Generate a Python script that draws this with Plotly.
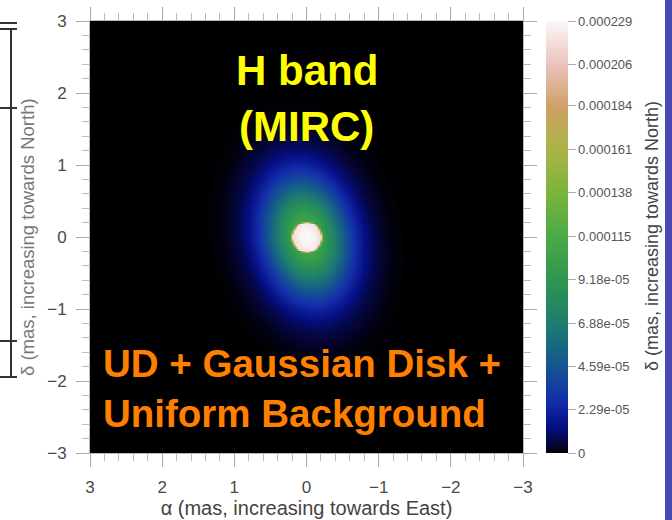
import numpy as np
import plotly.graph_objects as go

# ---- data: model parameters of the image (mas / flux units) ----
ud_diameter = 0.42          # uniform disk diameter (mas)
ud_level = 1.14e-4          # surface brightness of the UD
gauss_peak = 1.15e-4        # peak of the Gaussian disk
gauss_fwhm_major = 1.34     # mas
gauss_fwhm_minor = 0.92     # mas
gauss_pa_deg = 12.0         # position angle, east of north
background_level = 0.0      # uniform background as displayed
edge_blur = 0.02            # apparent softness of the UD edge (mas)

grid_alpha = np.linspace(-3, 3, 241)
grid_delta = np.linspace(-3, 3, 241)

cbar_vals = [0, 2.29e-05, 4.59e-05, 6.88e-05, 9.18e-05, 0.000115,
             0.000138, 0.000161, 0.000184, 0.000206, 0.000229]
cbar_text = ["0", "2.29e-05", "4.59e-05", "6.88e-05", "9.18e-05", "0.000115",
             "0.000138", "0.000161", "0.000184", "0.000206", "0.000229"]
axis_ticks = [-3, -2, -1, 0, 1, 2, 3]

# ---- model image ----
A, D = np.meshgrid(grid_alpha, grid_delta)
pa = np.deg2rad(gauss_pa_deg)
u = A * np.sin(pa) + D * np.cos(pa)      # along major axis
v = A * np.cos(pa) - D * np.sin(pa)      # along minor axis
s_maj = gauss_fwhm_major / 2.3548
s_min = gauss_fwhm_minor / 2.3548
gauss = gauss_peak * np.exp(-0.5 * ((u / s_maj) ** 2 + (v / s_min) ** 2))
r = np.hypot(A, D)
ud = ud_level * np.clip((ud_diameter / 2 - r) / edge_blur + 0.5, 0.0, 1.0)
Z = gauss + ud + background_level
Z[Z < 2e-7] = 0.0

colorscale = [
    [0.0, "rgb(0,0,0)"],
    [0.015, "rgb(4,4,45)"],
    [0.06, "rgb(5,14,130)"],
    [0.12, "rgb(20,45,170)"],
    [0.20, "rgb(20,85,145)"],
    [0.30, "rgb(30,125,110)"],
    [0.40, "rgb(45,150,80)"],
    [0.50, "rgb(75,170,70)"],
    [0.60, "rgb(120,180,60)"],
    [0.70, "rgb(170,180,70)"],
    [0.80, "rgb(205,160,100)"],
    [0.90, "rgb(235,195,190)"],
    [1.0, "rgb(250,248,248)"],
]

FONT = "Liberation Sans, Arial, sans-serif"

fig = go.Figure()
fig.add_trace(go.Heatmap(
    x=grid_alpha, y=grid_delta, z=Z,
    zmin=cbar_vals[0], zmax=cbar_vals[-1],
    colorscale=colorscale, zsmooth="best",
    colorbar=dict(
        x=1.053, xanchor="left", xpad=0,
        y=0.5, yanchor="middle", ypad=0,
        len=432, lenmode="pixels", thickness=22,
        outlinewidth=0,
        tickvals=cbar_vals, ticktext=cbar_text,
        ticks="outside", ticklen=8, tickcolor="#aaa",
        tickfont=dict(family=FONT, size=13, color="#555"),
    ),
))

axis_common = dict(
    tickvals=axis_ticks, ticks="outside", ticklen=13, tickcolor="#aaa",
    tickwidth=1, mirror="allticks", showline=True, linecolor="#bbb",
    showgrid=False, zeroline=False, automargin=False,
    minor=dict(dtick=0.2, ticks="outside", ticklen=7, tickcolor="#bbb"),
    tickfont=dict(family=FONT, size=17, color="#4a4a4a"),
    ticklabelstandoff=6,
)
fig.update_xaxes(range=[3, -3], **axis_common,
                 title=dict(text="α (mas, increasing towards East)",
                            font=dict(family=FONT, size=20, color="#444"),
                            standoff=4))
fig.update_yaxes(range=[-3, 3], **axis_common)

def px_x(px):
    return (px - 90) / 433.0

def px_y(py):
    return (453 - py) / 432.0

annos = [
    dict(text="H band", x=0, y=2.31, xref="x", yref="y", xanchor="center", yanchor="middle",
         font=dict(family=FONT, size=42, color="#ffff00", weight="bold")),
    dict(text="(MIRC)", x=0, y=1.54, xref="x", yref="y", xanchor="center", yanchor="middle",
         font=dict(family=FONT, size=42, color="#ffff00", weight="bold")),
    dict(text="UD + Gaussian Disk +", x=2.85, y=-1.75, xref="x", yref="y", xanchor="left", yanchor="middle",
         font=dict(family=FONT, size=38.5, color="#ff8000", weight="bold")),
    dict(text="Uniform Background", x=2.85, y=-2.45, xref="x", yref="y", xanchor="left", yanchor="middle",
         font=dict(family=FONT, size=38.5, color="#ff8000", weight="bold")),
    dict(text="δ (mas, increasing towards North)", x=px_x(27), y=px_y(237), xref="paper", yref="paper",
         xanchor="center", yanchor="middle", textangle=-90,
         font=dict(family=FONT, size=18.5, color="#777")),
    dict(text="δ (mas, increasing towards North)", x=px_x(652), y=px_y(236), xref="paper", yref="paper",
         xanchor="center", yanchor="middle", textangle=-90,
         font=dict(family=FONT, size=18, color="#444")),
]
for a in annos:
    a["showarrow"] = False
    fig.add_annotation(**a)

line_style = dict(color="#333", width=2)
shapes = [
    dict(type="line", x0=px_x(0), x1=px_x(17), y0=px_y(23), y1=px_y(23)),
    dict(type="line", x0=px_x(0), x1=px_x(17), y0=px_y(29), y1=px_y(29)),
    dict(type="line", x0=px_x(11), x1=px_x(11), y0=px_y(29), y1=px_y(377)),
    dict(type="line", x0=px_x(0), x1=px_x(17), y0=px_y(108), y1=px_y(108)),
    dict(type="line", x0=px_x(0), x1=px_x(17), y0=px_y(341), y1=px_y(341)),
    dict(type="line", x0=px_x(0), x1=px_x(17), y0=px_y(377), y1=px_y(377)),
]
for s in shapes:
    fig.add_shape(**s, xref="paper", yref="paper", line=line_style)
fig.add_shape(type="rect", xref="paper", yref="paper",
              x0=px_x(665), x1=px_x(680), y0=px_y(530), y1=px_y(-10),
              fillcolor="#4848b4", line=dict(width=0))

fig.update_layout(
    width=672, height=520,
    margin=dict(l=90, r=149, t=21, b=67, pad=0, autoexpand=False),
    paper_bgcolor="white", plot_bgcolor="black",
    showlegend=False,
)
fig.write_html("out.html")
